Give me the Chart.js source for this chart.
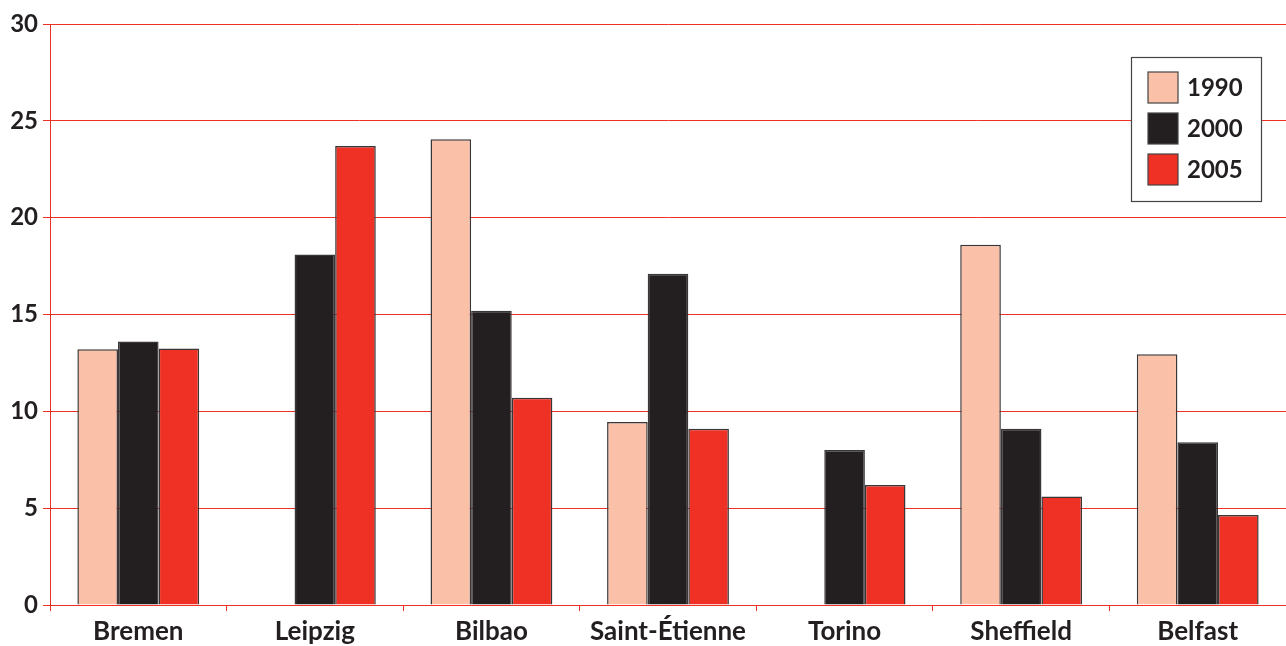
<!DOCTYPE html>
<html>
<head>
<meta charset="utf-8">
<script src="https://cdn.jsdelivr.net/npm/chart.js@4/dist/chart.umd.min.js"></script>
<style>
  html, body { margin: 0; padding: 0; background: #fff; }
  #wrap { width: 1286px; height: 646px; }
</style>
</head>
<body>
<div id="wrap"><canvas id="cityBar"></canvas></div>
<script>
const cities = ["Bremen", "Leipzig", "Bilbao", "Saint-Étienne", "Torino", "Sheffield", "Belfast"];
const seriesNames = ["1990", "2000", "2005"];
const v1990 = [13.2, null, 24.05, 9.45, null, 18.6, 12.95];
const v2000 = [13.6, 18.1, 15.2, 17.1, 8.0, 9.1, 8.4];
const v2005 = [13.25, 23.7, 10.7, 9.1, 6.2, 5.6, 4.65];
const yTicks = [0, 5, 10, 15, 20, 25, 30];
const colors = ["#fbc0a8", "#231f20", "#ee3124"];

const inkColor = '#231f20';
const redLine = '#ee3124';
const yFont = { family: "Lato, sans-serif", size: 24, weight: 'bold' };
const xFont = { family: "Lato, sans-serif", size: 26, weight: 'bold' };

// legend box drawn inside the plot, top right
const boxLegend = {
    id: 'boxLegend',
    afterDraw(chart) {
        const c = chart.ctx;
        const x = 1131, y = 57, w = 130, h = 144;
        c.save();
        c.fillStyle = '#fff';
        c.fillRect(x, y, w, h);
        c.strokeStyle = '#444';
        c.lineWidth = 1.2;
        c.strokeRect(x + 0.5, y + 0.5, w, h);
        chart.data.datasets.forEach((ds, i) => {
            const sy = 72 + i * 41;
            c.fillStyle = ds.backgroundColor;
            c.fillRect(1148, sy, 30, 31);
            c.strokeStyle = '#444';
            c.lineWidth = 1.2;
            c.strokeRect(1148, sy, 30, 31);
            c.fillStyle = inkColor;
            c.font = "bold 24px Lato, sans-serif";
            c.textBaseline = 'middle';
            c.textAlign = 'left';
            c.fillText(ds.label, 1187, sy + 16);
        });
        c.restore();
    }
};

const allValues = [v1990, v2000, v2005];
new Chart(document.getElementById('cityBar'), {
    type: 'bar',
    data: {
        labels: cities,
        datasets: seriesNames.map((name, i) => ({
            label: name,
            data: allValues[i],
            backgroundColor: colors[i],
            borderColor: '#3a3536',
            borderWidth: 1.5,
            categoryPercentage: 0.69,
            barPercentage: 1.0
        }))
    },
    options: {
        responsive: true,
        maintainAspectRatio: false,
        animation: false,
        layout: { padding: { top: 24, right: 0, bottom: 0, left: 0 } },
        plugins: {
            legend: { display: false },
            tooltip: { enabled: false }
        },
        scales: {
            x: {
                offset: true,
                grid: {
                    offset: true,
                    drawOnChartArea: false,
                    drawTicks: true,
                    tickLength: 6,
                    color: redLine
                },
                border: { color: redLine, width: 1 },
                ticks: { color: inkColor, font: xFont, padding: 5, maxRotation: 0 },
                afterFit: axis => { axis.height = 41; }
            },
            y: {
                min: 0,
                max: 30,
                afterBuildTicks: axis => { axis.ticks = yTicks.map(v => ({ value: v })); },
                grid: { color: redLine, lineWidth: 1, tickLength: 7 },
                border: { color: redLine, width: 1 },
                ticks: { color: inkColor, font: yFont, padding: 5 },
                afterFit: axis => { axis.width = 50; }
            }
        }
    },
    plugins: [boxLegend]
});
</script>
</body>
</html>
